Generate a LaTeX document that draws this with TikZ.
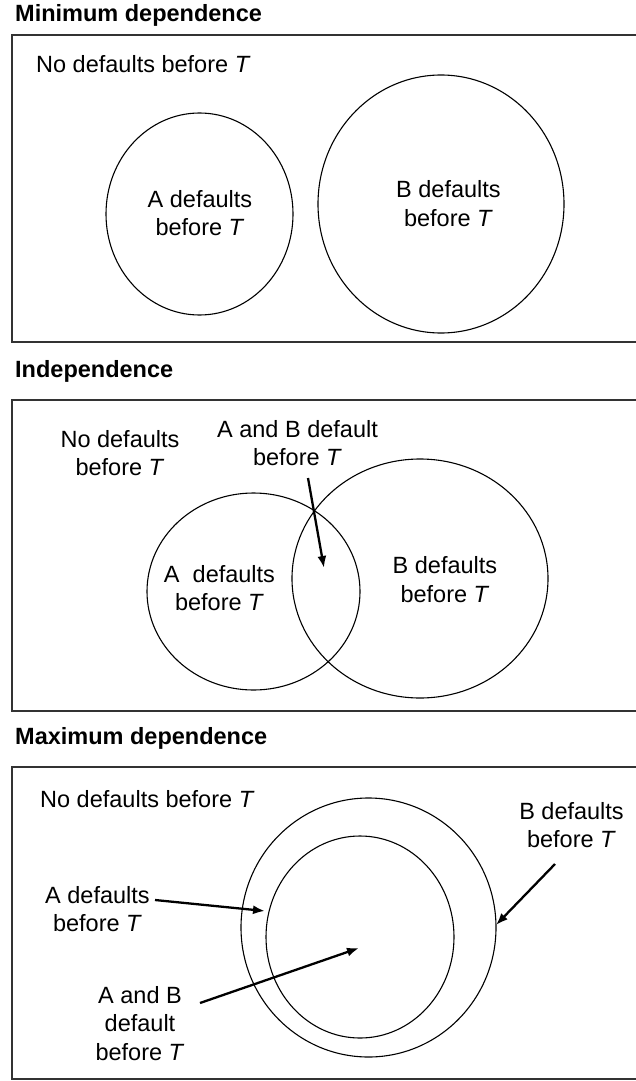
\documentclass[tikz,border=0pt]{standalone}
\usepackage{fontspec}
\setmainfont{Liberation Sans}
\usetikzlibrary{arrows.meta}
\newcommand\twolines[2]{\begin{tabular}[t]{@{}c@{}}#1\\#2\end{tabular}}
\newcommand\threelines[3]{\begin{tabular}[t]{@{}c@{}}#1\\#2\\#3\end{tabular}}
\begin{document}
\begin{tikzpicture}[x=1pt,y=-1pt,
  every node/.style={inner sep=0pt, font=\fontsize{23.5}{28.5}\selectfont},
  ttl/.style={anchor=base west, font=\fontsize{23.5}{28.5}\selectfont\bfseries},
  lbl/.style={anchor=base},
  lblw/.style={anchor=base west},
  panel/.style={draw=black!80, line width=1.6pt},
  setline/.style={draw=black, line width=1.1pt},
  arr/.style={-{Latex[length=12pt,width=9pt]}, line width=2.3pt}]
\useasboundingbox (0,0) rectangle (636,1081);
\clip (0,0) rectangle (636,1081);
\fill[white] (0,0) rectangle (636,1081);

% ---------- Panel 1: Minimum dependence ----------
\node[ttl] (t1) at (15,22) {Minimum dependence};
\draw[panel] (12,35) rectangle (650,342);
\node[lblw] (n1) at (36,73) {No defaults before \textit{T}};
\coordinate (ea1) at (199.5,214);
\coordinate (eb1) at (441,204);
\draw[setline] (ea1) ellipse [x radius=93.5pt, y radius=101pt];
\draw[setline] (eb1) ellipse [x radius=123pt, y radius=129pt];
\node[lbl] (a1) at (200,207) {\twolines{A defaults}{before \textit{T}}};
\node[lbl] (b1) at (448.5,197.5) {\twolines{B defaults}{before \textit{T}}};

% ---------- Panel 2: Independence ----------
\node[ttl] (t2) at (15,377) {Independence};
\draw[panel] (12,400) rectangle (650,711);
\node[lbl] (n2) at (120,447) {\twolines{No defaults}{before \textit{T}}};
\node[lbl] (ab2) at (297.5,437) {\twolines{A and B default}{before \textit{T}}};
\coordinate (ea2) at (253.5,591.5);
\coordinate (eb2) at (420,578.5);
\draw[setline] (ea2) ellipse [x radius=106.5pt, y radius=98.5pt];
\draw[setline] (eb2) ellipse [x radius=128pt, y radius=119.5pt];
\node[lbl] (a2) at (219.5,582) {\twolines{A~~defaults}{before \textit{T}}};
\node[lbl] (b2) at (445,573.5) {\twolines{B defaults}{before \textit{T}}};
\coordinate (s2) at (308,478);
\coordinate (e2) at (324,568);
\draw[arr] (s2) -- (e2);

% ---------- Panel 3: Maximum dependence ----------
\node[ttl] (t3) at (15,744) {Maximum dependence};
\draw[panel] (12,767) rectangle (650,1079);
\node[lblw] (n3) at (40,807) {No defaults before \textit{T}};
\coordinate (eo3) at (368.5,927.5);
\coordinate (ei3) at (360,937);
\draw[setline] (eo3) ellipse [x radius=127.5pt, y radius=129.5pt];
\draw[setline] (ei3) ellipse [x radius=94pt, y radius=101pt];
\node[lbl] (a3) at (97.5,903) {\twolines{A defaults}{before \textit{T}}};
\node[lbl] (ab3) at (140,1003) {\threelines{A and B}{default}{before \textit{T}}};
\node[lbl] (b3) at (571.5,819) {\twolines{B defaults}{before \textit{T}}};
\coordinate (sa3) at (155,900);
\coordinate (ta3) at (265,911);
\coordinate (sab3) at (200,1003);
\coordinate (tab3) at (359,948);
\coordinate (sb3) at (555,864);
\coordinate (tb3) at (496,925);
\draw[arr] (sa3) -- (ta3);
\draw[arr] (sab3) -- (tab3);
\draw[arr] (sb3) -- (tb3);
\end{tikzpicture}
\end{document}
